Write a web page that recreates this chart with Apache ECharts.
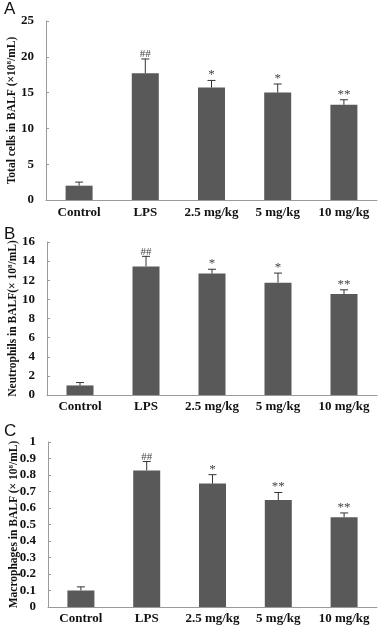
<!DOCTYPE html>
<html><head><meta charset="utf-8">
<script src="https://cdn.jsdelivr.net/npm/echarts@6/dist/echarts.min.js"></script>
<style>html,body{margin:0;padding:0;background:#fff}#c{width:379px;height:626px}</style>
</head><body><div id="c"></div>
<script>
const categories = ['Control', 'LPS', '2.5 mg/kg', '5 mg/kg', '10 mg/kg'];
const totalMean = [2.0, 17.7, 15.7, 15.0, 13.3];
const totalErr = [0.5, 2.0, 1.0, 1.2, 0.7];
const totalSig = ['', '##', '*', '*', '**'];
const neutroMean = [1.0, 13.45, 12.7, 11.75, 10.55];
const neutroErr = [0.3, 1.05, 0.45, 1.0, 0.45];
const neutroSig = ['', '##', '*', '*', '**'];
const macroMean = [0.1, 0.828, 0.748, 0.648, 0.544];
const macroErr = [0.022, 0.054, 0.054, 0.046, 0.026];
const macroSig = ['', '##', '*', '**', '**'];
const yTicksA = {min: 0, max: 25, interval: 5};
const yTicksB = {min: 0, max: 16, interval: 2};
const yTicksC = {min: 0, max: 1, interval: 0.1};

const serif = '"Liberation Serif", "DejaVu Serif", serif';
const chart = echarts.init(document.getElementById('c'));

const grids = [
  {left: 46, top: 21, width: 331, height: 179, outerBoundsMode: 'none', containLabel: false},
  {left: 47, top: 242, width: 330, height: 153, outerBoundsMode: 'none', containLabel: false},
  {left: 48, top: 442, width: 329, height: 165, outerBoundsMode: 'none', containLabel: false}
];
const labelMargins = [6, 5, 5];
const yNames = [
  '{n|Total cells in BALF (×10}{s|8}{n|/mL)}',
  '{n|Neutrophils in BALF(× 10}{s|8}{n|/mL)}',
  '{n|Macrophages in BALF (× 10}{s|8}{n|/mL)}'
];
const yTicks = [yTicksA, yTicksB, yTicksC];
const means = [totalMean, neutroMean, macroMean];
const errs = [totalErr, neutroErr, macroErr];
const sigs = [totalSig, neutroSig, macroSig];

const axisLine = {lineStyle: {color: '#9a9a9a', width: 1}};
const xAxis = grids.map((g, i) => ({
  gridIndex: i, type: 'category', data: categories,
  axisLine: axisLine,
  axisTick: {inside: true, length: 3, lineStyle: {color: '#9a9a9a'}},
  axisLabel: {fontFamily: serif, fontWeight: 'bold', fontSize: 13, color: '#111', margin: labelMargins[i], interval: 0}
}));
const yAxis = grids.map((g, i) => ({
  gridIndex: i, type: 'value', min: yTicks[i].min, max: yTicks[i].max, interval: yTicks[i].interval,
  splitLine: {show: false},
  axisLine: Object.assign({show: true}, axisLine),
  axisTick: {show: true, inside: true, length: 3, lineStyle: {color: '#9a9a9a'}},
  axisLabel: {fontFamily: serif, fontWeight: 'bold', fontSize: 13, color: '#111', margin: 12},
  name: yNames[i], nameLocation: 'middle', nameRotate: 90, nameGap: 28, nameMoveOverlap: false,
  nameTextStyle: {
    rich: {
      n: {fontFamily: serif, fontSize: 11.5, color: '#111', fontWeight: 'bold'},
      s: {fontFamily: serif, fontSize: 7, color: '#111', fontWeight: 'bold', verticalAlign: 'top', padding: [0, 0, 5, 0]}
    }
  }
}));

const series = [];
grids.forEach((g, i) => {
  series.push({
    type: 'bar', xAxisIndex: i, yAxisIndex: i, data: means[i], barWidth: 27,
    itemStyle: {color: '#595959'}, silent: true
  });
  series.push({
    type: 'custom', xAxisIndex: i, yAxisIndex: i, silent: true, z: 5,
    data: means[i].map((m, k) => [k, m, errs[i][k]]),
    renderItem: function (params, api) {
      const x = api.value(0), y = api.value(1), e = api.value(2);
      const sig = sigs[i][params.dataIndex];
      const base = api.coord([x, y]);
      const top = api.coord([x, y + e]);
      return {
        type: 'group',
        children: [
          {type: 'line', shape: {x1: base[0], y1: base[1], x2: top[0], y2: top[1]}, style: {stroke: '#333', lineWidth: 1}},
          {type: 'line', shape: {x1: top[0] - 4, y1: top[1], x2: top[0] + 4, y2: top[1]}, style: {stroke: '#333', lineWidth: 1}},
          {type: 'text', x: top[0], y: top[1] + 1, style: {text: sig, textAlign: 'center', textVerticalAlign: 'bottom', font: (sig.indexOf('*') >= 0 ? '13px ' : '11px ') + serif, fill: '#444'}}
        ]
      };
    }
  });
});

chart.setOption({
  animation: false,
  grid: grids,
  xAxis: xAxis,
  yAxis: yAxis,
  series: series,
  graphic: [
    {type: 'text', left: 4, top: 1, style: {text: 'A', font: '17px "Liberation Sans", Arial, sans-serif', fill: '#111'}},
    {type: 'text', left: 4, top: 226, style: {text: 'B', font: '17px "Liberation Sans", Arial, sans-serif', fill: '#111'}},
    {type: 'text', left: 4, top: 423, style: {text: 'C', font: '17px "Liberation Sans", Arial, sans-serif', fill: '#111'}}
  ]
});
</script>
</body></html>
